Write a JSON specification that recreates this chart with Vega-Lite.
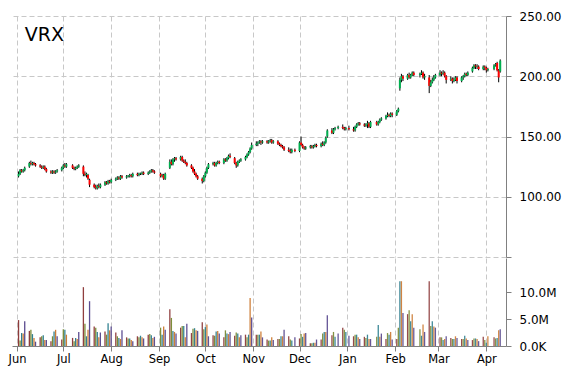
{
"$schema": "https://vega.github.io/schema/vega-lite/v6.json",
"background": "white",
"padding": {"left": 8, "top": 10, "right": 5, "bottom": 5},
"spacing": 0,
"config": {
  "view": {"stroke": null},
  "axis": {"labelFont": "DejaVu Sans", "labelFontSize": 12, "labelColor": "#000000", "gridColor": "#c8c8c8", "gridDash": [5, 3], "domainColor": "#808080", "tickColor": "#808080", "title": null}
},
"resolve": {"scale": {"x": "independent", "y": "independent"}},
"data": {"values": [
{"d":"2014-06-02","o":117,"h":121,"l":116,"c":119,"v":4.8},
{"d":"2014-06-03","o":119,"h":123,"l":118,"c":122,"v":1.0},
{"d":"2014-06-04","o":122,"h":123,"l":120,"c":121,"v":2.4},
{"d":"2014-06-05","o":121,"h":123,"l":120,"c":122,"v":2.3},
{"d":"2014-06-06","o":122,"h":125,"l":121,"c":124,"v":4.6},
{"d":"2014-06-09","o":125,"h":129,"l":124,"c":128,"v":2.8},
{"d":"2014-06-10","o":128,"h":130,"l":126,"c":127,"v":3.0},
{"d":"2014-06-11","o":127,"h":129,"l":126,"c":128,"v":2.2},
{"d":"2014-06-12","o":128,"h":129,"l":126,"c":127,"v":1.5},
{"d":"2014-06-13","o":127,"h":128,"l":125,"c":126,"v":0.8},
{"d":"2014-06-16","o":126,"h":127,"l":124,"c":125,"v":1.6},
{"d":"2014-06-17","o":125,"h":126,"l":123,"c":124,"v":1.8},
{"d":"2014-06-18","o":124,"h":126,"l":123,"c":125,"v":2.0},
{"d":"2014-06-19","o":125,"h":126,"l":122,"c":123,"v":1.1},
{"d":"2014-06-20","o":123,"h":124,"l":120,"c":121,"v":1.1},
{"d":"2014-06-23","o":121,"h":122,"l":119,"c":120,"v":0.9},
{"d":"2014-06-24","o":120,"h":122,"l":119,"c":121,"v":1.8},
{"d":"2014-06-25","o":121,"h":122,"l":119,"c":120,"v":2.7},
{"d":"2014-06-26","o":120,"h":122,"l":119,"c":121,"v":3.0},
{"d":"2014-06-27","o":121,"h":123,"l":120,"c":122,"v":1.8},
{"d":"2014-06-30","o":122,"h":125,"l":121,"c":124,"v":1.2},
{"d":"2014-07-01","o":124,"h":127,"l":123,"c":126,"v":3.1},
{"d":"2014-07-02","o":126,"h":128,"l":124,"c":125,"v":3.0},
{"d":"2014-07-03","o":125,"h":128,"l":124,"c":127,"v":2.1},
{"d":"2014-07-07","o":126,"h":127,"l":123,"c":124,"v":1.5},
{"d":"2014-07-08","o":124,"h":125,"l":122,"c":123,"v":0.9},
{"d":"2014-07-09","o":123,"h":125,"l":122,"c":124,"v":1.5},
{"d":"2014-07-10","o":124,"h":126,"l":123,"c":125,"v":1.3},
{"d":"2014-07-11","o":125,"h":127,"l":124,"c":126,"v":2.6},
{"d":"2014-07-14","o":125,"h":126,"l":117,"c":119,"v":10.9},
{"d":"2014-07-15","o":119,"h":121,"l":117,"c":118,"v":4.1},
{"d":"2014-07-16","o":118,"h":120,"l":116,"c":119,"v":1.8},
{"d":"2014-07-17","o":118,"h":119,"l":114,"c":115,"v":3.0},
{"d":"2014-07-18","o":114,"h":115,"l":108,"c":110,"v":8.3},
{"d":"2014-07-21","o":110,"h":111,"l":107,"c":108,"v":3.6},
{"d":"2014-07-22","o":108,"h":110,"l":106,"c":107,"v":3.4},
{"d":"2014-07-23","o":107,"h":110,"l":106,"c":109,"v":2.6},
{"d":"2014-07-24","o":109,"h":111,"l":107,"c":108,"v":1.6},
{"d":"2014-07-25","o":108,"h":111,"l":107,"c":110,"v":2.5},
{"d":"2014-07-28","o":110,"h":113,"l":109,"c":112,"v":2.7},
{"d":"2014-07-29","o":112,"h":113,"l":110,"c":111,"v":2.1},
{"d":"2014-07-30","o":111,"h":114,"l":110,"c":113,"v":4.2},
{"d":"2014-07-31","o":113,"h":114,"l":111,"c":112,"v":2.9},
{"d":"2014-08-01","o":112,"h":115,"l":111,"c":114,"v":3.6},
{"d":"2014-08-04","o":114,"h":116,"l":113,"c":115,"v":2.5},
{"d":"2014-08-05","o":115,"h":117,"l":114,"c":116,"v":1.8},
{"d":"2014-08-06","o":116,"h":117,"l":114,"c":115,"v":1.5},
{"d":"2014-08-07","o":115,"h":118,"l":114,"c":117,"v":1.3},
{"d":"2014-08-08","o":117,"h":118,"l":115,"c":116,"v":2.9},
{"d":"2014-08-11","o":116,"h":118,"l":115,"c":117,"v":1.6},
{"d":"2014-08-12","o":117,"h":118,"l":116,"c":117.5,"v":1.4},
{"d":"2014-08-13","o":117,"h":119,"l":116,"c":118,"v":1.4},
{"d":"2014-08-14","o":118,"h":119,"l":116,"c":117,"v":1.1},
{"d":"2014-08-15","o":117,"h":120,"l":116,"c":119,"v":0.9},
{"d":"2014-08-18","o":119,"h":120,"l":117,"c":118,"v":1.8},
{"d":"2014-08-19","o":118,"h":120,"l":117,"c":119,"v":1.6},
{"d":"2014-08-20","o":119,"h":120,"l":118,"c":119.5,"v":1.9},
{"d":"2014-08-21","o":119,"h":121,"l":118,"c":120,"v":1.6},
{"d":"2014-08-22","o":120,"h":121,"l":118,"c":119,"v":1.4},
{"d":"2014-08-25","o":119,"h":121,"l":118,"c":120,"v":2.1},
{"d":"2014-08-26","o":120,"h":122,"l":119,"c":121,"v":2.2},
{"d":"2014-08-27","o":121,"h":123,"l":120,"c":122,"v":2.0},
{"d":"2014-08-28","o":122,"h":123,"l":120,"c":121,"v":1.5},
{"d":"2014-08-29","o":121,"h":122,"l":119,"c":120,"v":1.7},
{"d":"2014-09-02","o":119,"h":120,"l":116,"c":117,"v":3.4},
{"d":"2014-09-03","o":117,"h":119,"l":116,"c":118,"v":2.1},
{"d":"2014-09-04","o":118,"h":119,"l":114,"c":115,"v":3.6},
{"d":"2014-09-05","o":115,"h":120,"l":114,"c":119,"v":3.0},
{"d":"2014-09-08","o":124,"h":131,"l":123,"c":129,"v":6.8},
{"d":"2014-09-09","o":129,"h":131,"l":126,"c":127,"v":5.2},
{"d":"2014-09-10","o":127,"h":132,"l":126,"c":131,"v":2.8},
{"d":"2014-09-11","o":131,"h":133,"l":129,"c":132,"v":2.6},
{"d":"2014-09-12","o":132,"h":133,"l":130,"c":131,"v":2.3},
{"d":"2014-09-15","o":131,"h":134,"l":130,"c":133,"v":3.4},
{"d":"2014-09-16","o":133,"h":134,"l":129,"c":130,"v":3.7},
{"d":"2014-09-17","o":130,"h":131,"l":128,"c":129,"v":3.7},
{"d":"2014-09-18","o":129,"h":131,"l":127,"c":128,"v":1.6},
{"d":"2014-09-19","o":128,"h":129,"l":125,"c":126,"v":4.1},
{"d":"2014-09-22","o":126,"h":127,"l":123,"c":124,"v":2.4},
{"d":"2014-09-23","o":124,"h":125,"l":120,"c":121,"v":3.2},
{"d":"2014-09-24","o":121,"h":123,"l":118,"c":119,"v":3.3},
{"d":"2014-09-25","o":119,"h":120,"l":116,"c":117,"v":2.9},
{"d":"2014-09-26","o":117,"h":118,"l":114,"c":115,"v":2.8},
{"d":"2014-09-29","o":115,"h":116,"l":111,"c":113,"v":4.4},
{"d":"2014-09-30","o":113,"h":118,"l":112,"c":117,"v":3.1},
{"d":"2014-10-01","o":117,"h":121,"l":116,"c":120,"v":3.5},
{"d":"2014-10-02","o":120,"h":125,"l":119,"c":124,"v":4.0},
{"d":"2014-10-03","o":124,"h":128,"l":123,"c":127,"v":1.8},
{"d":"2014-10-06","o":127,"h":129,"l":126,"c":128,"v":2.0},
{"d":"2014-10-07","o":128,"h":129,"l":125,"c":126,"v":1.9},
{"d":"2014-10-08","o":126,"h":129,"l":125,"c":128,"v":2.7},
{"d":"2014-10-09","o":128,"h":130,"l":127,"c":129,"v":2.8},
{"d":"2014-10-10","o":129,"h":130,"l":127,"c":128,"v":2.3},
{"d":"2014-10-13","o":128,"h":132,"l":127,"c":131,"v":1.6},
{"d":"2014-10-14","o":131,"h":132,"l":129,"c":130,"v":2.9},
{"d":"2014-10-15","o":130,"h":133,"l":129,"c":132,"v":2.3},
{"d":"2014-10-16","o":132,"h":135,"l":131,"c":134,"v":2.2},
{"d":"2014-10-17","o":134,"h":136,"l":132,"c":133,"v":2.6},
{"d":"2014-10-20","o":132,"h":133,"l":127,"c":128,"v":1.9},
{"d":"2014-10-21","o":128,"h":129,"l":124,"c":126,"v":2.5},
{"d":"2014-10-22","o":126,"h":130,"l":125,"c":129,"v":2.3},
{"d":"2014-10-23","o":129,"h":131,"l":128,"c":130,"v":1.6},
{"d":"2014-10-24","o":130,"h":132,"l":129,"c":131,"v":2.0},
{"d":"2014-10-27","o":131,"h":134,"l":130,"c":133,"v":2.1},
{"d":"2014-10-28","o":133,"h":136,"l":132,"c":135,"v":1.6},
{"d":"2014-10-29","o":135,"h":138,"l":134,"c":137,"v":2.1},
{"d":"2014-10-30","o":137,"h":141,"l":136,"c":140,"v":8.9},
{"d":"2014-10-31","o":140,"h":145,"l":139,"c":143,"v":5.3},
{"d":"2014-11-03","o":143,"h":146,"l":142,"c":144,"v":2.1},
{"d":"2014-11-04","o":144,"h":146,"l":142,"c":145,"v":2.1},
{"d":"2014-11-05","o":145,"h":147,"l":144,"c":146,"v":2.1},
{"d":"2014-11-06","o":146,"h":147,"l":143,"c":145,"v":2.7},
{"d":"2014-11-07","o":145,"h":147,"l":144,"c":146,"v":1.6},
{"d":"2014-11-10","o":146,"h":147,"l":144,"c":145,"v":1.2},
{"d":"2014-11-11","o":145,"h":147,"l":144,"c":146,"v":1.0},
{"d":"2014-11-12","o":146,"h":148,"l":145,"c":147,"v":1.0},
{"d":"2014-11-13","o":147,"h":148,"l":144,"c":145,"v":1.6},
{"d":"2014-11-14","o":145,"h":147,"l":144,"c":146,"v":1.1},
{"d":"2014-11-17","o":146,"h":147,"l":143,"c":144,"v":1.3},
{"d":"2014-11-18","o":144,"h":145,"l":142,"c":143,"v":1.3},
{"d":"2014-11-19","o":143,"h":144,"l":141,"c":142,"v":1.8},
{"d":"2014-11-20","o":142,"h":143,"l":140,"c":141,"v":1.8},
{"d":"2014-11-21","o":141,"h":142,"l":138,"c":139,"v":3.0},
{"d":"2014-11-24","o":139,"h":141,"l":137,"c":138,"v":1.8},
{"d":"2014-11-25","o":138,"h":140,"l":136,"c":137,"v":1.2},
{"d":"2014-11-26","o":137,"h":140,"l":136,"c":139,"v":1.0},
{"d":"2014-11-28","o":139,"h":140,"l":137,"c":138,"v":1.6},
{"d":"2014-12-01","o":138,"h":146,"l":137,"c":145,"v":1.4},
{"d":"2014-12-02","o":145,"h":150,"l":142,"c":143,"v":2.2},
{"d":"2014-12-03","o":143,"h":144,"l":140,"c":141,"v":1.7},
{"d":"2014-12-04","o":141,"h":142,"l":139,"c":140,"v":2.3},
{"d":"2014-12-05","o":140,"h":142,"l":139,"c":141,"v":2.4},
{"d":"2014-12-08","o":141,"h":143,"l":140,"c":142,"v":0.5},
{"d":"2014-12-09","o":142,"h":143,"l":140,"c":141,"v":0.5},
{"d":"2014-12-10","o":141,"h":143,"l":140,"c":142,"v":0.6},
{"d":"2014-12-11","o":142,"h":144,"l":141,"c":143,"v":0.6},
{"d":"2014-12-12","o":143,"h":144,"l":141,"c":142,"v":1.2},
{"d":"2014-12-15","o":142,"h":145,"l":141,"c":144,"v":1.2},
{"d":"2014-12-16","o":144,"h":146,"l":142,"c":143,"v":2.3},
{"d":"2014-12-17","o":143,"h":146,"l":142,"c":145,"v":2.6},
{"d":"2014-12-18","o":145,"h":150,"l":144,"c":149,"v":2.6},
{"d":"2014-12-19","o":150,"h":156,"l":149,"c":155,"v":5.7},
{"d":"2014-12-22","o":155,"h":157,"l":152,"c":153,"v":2.0},
{"d":"2014-12-23","o":153,"h":157,"l":152,"c":156,"v":2.6},
{"d":"2014-12-24","o":156,"h":158,"l":155,"c":157,"v":1.7},
{"d":"2014-12-26","o":157,"h":159,"l":156,"c":158,"v":2.3},
{"d":"2014-12-29","o":158,"h":160,"l":156,"c":157,"v":3.4},
{"d":"2014-12-30","o":157,"h":158,"l":155,"c":156,"v":3.0},
{"d":"2014-12-31","o":156,"h":158,"l":155,"c":157,"v":2.6},
{"d":"2015-01-02","o":157,"h":159,"l":155,"c":156,"v":1.9},
{"d":"2015-01-05","o":156,"h":158,"l":154,"c":155,"v":1.8},
{"d":"2015-01-06","o":155,"h":159,"l":154,"c":158,"v":2.1},
{"d":"2015-01-07","o":158,"h":161,"l":157,"c":160,"v":2.1},
{"d":"2015-01-08","o":160,"h":162,"l":159,"c":161,"v":1.6},
{"d":"2015-01-09","o":161,"h":162,"l":159,"c":160,"v":1.3},
{"d":"2015-01-12","o":160,"h":161,"l":158,"c":159,"v":1.7},
{"d":"2015-01-13","o":159,"h":161,"l":158,"c":160,"v":1.5},
{"d":"2015-01-14","o":160,"h":163,"l":157,"c":161,"v":2.1},
{"d":"2015-01-15","o":161,"h":162,"l":157,"c":158,"v":1.3},
{"d":"2015-01-16","o":158,"h":163,"l":157,"c":162,"v":1.3},
{"d":"2015-01-20","o":162,"h":163,"l":159,"c":160,"v":1.7},
{"d":"2015-01-21","o":160,"h":163,"l":159,"c":162,"v":3.9},
{"d":"2015-01-22","o":162,"h":165,"l":161,"c":164,"v":1.7},
{"d":"2015-01-23","o":164,"h":166,"l":163,"c":165,"v":2.3},
{"d":"2015-01-26","o":165,"h":168,"l":164,"c":167,"v":1.3},
{"d":"2015-01-27","o":167,"h":170,"l":166,"c":168,"v":2.4},
{"d":"2015-01-28","o":168,"h":169,"l":166,"c":167,"v":2.1},
{"d":"2015-01-29","o":167,"h":170,"l":166,"c":169,"v":2.6},
{"d":"2015-01-30","o":169,"h":170,"l":166,"c":168,"v":1.2},
{"d":"2015-02-02","o":168,"h":172,"l":167,"c":171,"v":1.3},
{"d":"2015-02-03","o":171,"h":174,"l":170,"c":173,"v":3.4},
{"d":"2015-02-04","o":190,"h":199,"l":188,"c":197,"v":12.0},
{"d":"2015-02-05","o":197,"h":202,"l":195,"c":200,"v":12.0},
{"d":"2015-02-06","o":200,"h":201,"l":196,"c":198,"v":6.1},
{"d":"2015-02-09","o":198,"h":202,"l":197,"c":201,"v":5.9},
{"d":"2015-02-10","o":201,"h":203,"l":198,"c":199,"v":6.6},
{"d":"2015-02-11","o":199,"h":202,"l":198,"c":201,"v":4.6},
{"d":"2015-02-12","o":201,"h":204,"l":200,"c":203,"v":5.9},
{"d":"2015-02-13","o":203,"h":204,"l":200,"c":201,"v":3.4},
{"d":"2015-02-17","o":201,"h":203,"l":199,"c":202,"v":3.1},
{"d":"2015-02-18","o":202,"h":205,"l":201,"c":203,"v":1.9},
{"d":"2015-02-19","o":203,"h":204,"l":198,"c":199,"v":4.0},
{"d":"2015-02-20","o":199,"h":202,"l":197,"c":200,"v":2.6},
{"d":"2015-02-23","o":199,"h":201,"l":186,"c":192,"v":12.0},
{"d":"2015-02-24","o":192,"h":197,"l":191,"c":195,"v":3.7},
{"d":"2015-02-25","o":195,"h":199,"l":194,"c":197,"v":4.6},
{"d":"2015-02-26","o":197,"h":201,"l":196,"c":199,"v":3.6},
{"d":"2015-02-27","o":199,"h":202,"l":198,"c":201,"v":3.4},
{"d":"2015-03-02","o":201,"h":205,"l":200,"c":203,"v":1.6},
{"d":"2015-03-03","o":203,"h":204,"l":200,"c":202,"v":1.6},
{"d":"2015-03-04","o":202,"h":205,"l":201,"c":203,"v":1.1},
{"d":"2015-03-05","o":203,"h":204,"l":199,"c":200,"v":1.3},
{"d":"2015-03-06","o":200,"h":201,"l":194,"c":197,"v":1.8},
{"d":"2015-03-09","o":197,"h":200,"l":196,"c":198,"v":1.5},
{"d":"2015-03-10","o":198,"h":199,"l":194,"c":196,"v":1.3},
{"d":"2015-03-11","o":196,"h":199,"l":195,"c":197,"v":1.3},
{"d":"2015-03-12","o":197,"h":200,"l":196,"c":199,"v":1.8},
{"d":"2015-03-13","o":199,"h":200,"l":194,"c":196,"v":1.5},
{"d":"2015-03-16","o":196,"h":200,"l":195,"c":199,"v":1.3},
{"d":"2015-03-17","o":199,"h":201,"l":197,"c":200,"v":1.3},
{"d":"2015-03-18","o":200,"h":203,"l":199,"c":202,"v":1.9},
{"d":"2015-03-19","o":202,"h":203,"l":200,"c":201,"v":1.4},
{"d":"2015-03-20","o":201,"h":204,"l":200,"c":203,"v":1.1},
{"d":"2015-03-23","o":204,"h":208,"l":203,"c":207,"v":1.1},
{"d":"2015-03-24","o":207,"h":210,"l":206,"c":209,"v":1.4},
{"d":"2015-03-25","o":209,"h":210,"l":206,"c":208,"v":1.4},
{"d":"2015-03-26","o":208,"h":210,"l":206,"c":208.5,"v":1.3},
{"d":"2015-03-27","o":208,"h":209,"l":205,"c":206,"v":0.9},
{"d":"2015-03-30","o":206,"h":209,"l":205,"c":208,"v":1.7},
{"d":"2015-03-31","o":208,"h":209,"l":205,"c":207,"v":1.1},
{"d":"2015-04-01","o":207,"h":208,"l":203,"c":205,"v":0.6},
{"d":"2015-04-02","o":205,"h":207,"l":204,"c":206,"v":1.8},
{"d":"2015-04-06","o":206,"h":210,"l":205,"c":209,"v":1.6},
{"d":"2015-04-07","o":209,"h":211,"l":208,"c":210,"v":1.4},
{"d":"2015-04-08","o":211,"h":212,"l":204,"c":205,"v":1.5},
{"d":"2015-04-09","o":205,"h":206,"l":195,"c":199,"v":2.9},
{"d":"2015-04-10","o":204,"h":214,"l":203,"c":213,"v":3.1}
]},
"vconcat": [
  {
    "width": 494,
    "height": 241,
    "encoding": {
      "x": {"field": "d", "type": "temporal",
        "scale": {"type": "utc", "domain": [{"year": 2014, "month": 6, "date": 1, "utc": true}, {"year": 2015, "month": 4, "date": 10, "hours": 12, "utc": true}]},
        "axis": {"grid": true, "labels": false, "ticks": false, "domain": false, "tickCount": {"interval": "month", "step": 1}}}
    },
    "layer": [
      {
        "mark": {"type": "rule", "color": "#000000", "strokeWidth": 1},
        "encoding": {
          "y": {"field": "l", "type": "quantitative",
            "scale": {"domain": [50, 250], "nice": false, "zero": false},
            "axis": {"orient": "right", "values": [50, 100, 150, 200, 250], "labelExpr": "datum.value == 50 ? '' : format(datum.value, '.2f')", "grid": true, "tickSize": 5, "labelPadding": 8}},
          "y2": {"field": "h"}
        }
      },
      {
        "mark": {"type": "bar", "size": 2},
        "encoding": {
          "y": {"field": "o", "type": "quantitative"},
          "y2": {"field": "c"},
          "color": {"condition": {"test": "datum.c >= datum.o", "value": "#00b050"}, "value": "#ff0000"}
        }
      },
      {
        "data": {"values": [{"t": "VRX", "d": "2014-06-06", "p": 229}]},
        "mark": {"type": "text", "align": "left", "baseline": "alphabetic", "font": "DejaVu Sans", "fontSize": 19, "color": "#000000"},
        "encoding": {
          "y": {"field": "p", "type": "quantitative"},
          "text": {"field": "t"}
        }
      }
    ]
  },
  {
    "width": 494,
    "height": 88,
    "mark": {"type": "bar", "size": 1.3},
    "encoding": {
      "x": {"field": "d", "type": "temporal",
        "scale": {"type": "utc", "domain": [{"year": 2014, "month": 6, "date": 1, "utc": true}, {"year": 2015, "month": 4, "date": 10, "hours": 12, "utc": true}]},
        "axis": {"grid": true, "tickCount": {"interval": "month", "step": 1}, "labelExpr": "utcFormat(datum.value, '%b')", "labelFlush": false, "tickSize": 5, "labelPadding": 2, "labelFontSize": 11.5}},
      "y": {"field": "v", "type": "quantitative",
        "scale": {"domain": [0, 16.3], "nice": false},
        "axis": {"orient": "right", "values": [0, 5, 10], "labelExpr": "datum.value == 0 ? '0.0K' : format(datum.value, '.1f') + 'M'", "grid": false, "tickSize": 5, "labelPadding": 8}},
      "color": {"timeUnit": "utcday", "field": "d", "type": "nominal", "legend": null,
        "scale": {"range": ["#8e3b3b", "#7a8a35", "#2f7f8f", "#cc7a33", "#5a4a8f"]}},
      "opacity": {"field": "d", "type": "temporal", "legend": null,
        "scale": {"type": "utc", "domain": [{"year": 2014, "month": 6, "date": 1, "utc": true}, {"year": 2014, "month": 11, "date": 1, "utc": true}, {"year": 2015, "month": 2, "date": 1, "utc": true}, {"year": 2015, "month": 4, "date": 10, "utc": true}], "range": [1, 0.9, 0.55, 0.4]}}
    }
  }
]
}
